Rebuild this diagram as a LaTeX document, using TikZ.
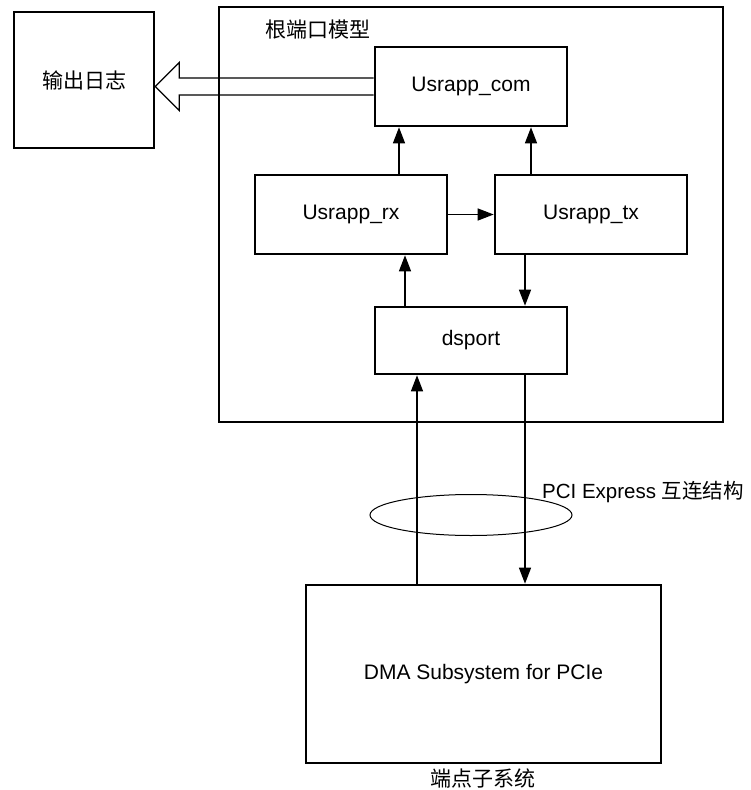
\documentclass[tikz,border=0pt]{standalone}
\usepackage{fontspec}
\setmainfont{Liberation Sans}
\newfontfamily\cjk{Noto Sans CJK SC}
\usepackage{tikz}
\usetikzlibrary{arrows.meta}
\usetikzlibrary{calc}
\usetikzlibrary{shapes.geometric}
\tikzstyle{blk}=[draw,line width=2.6pt,inner sep=0pt,font=\fontsize{21}{25}\selectfont]
\tikzstyle{arr}=[line width=1.3pt,-{Triangle[length=16pt,width=12pt]}]
\tikzstyle{hollow}=[line width=1.3pt,line join=miter]
\tikzstyle{lbl}=[inner sep=0pt,font=\fontsize{21}{25}\selectfont]

\begin{document}
\begin{tikzpicture}[x=1pt,y=-1pt]
	\useasboundingbox (0,0) rectangle (751,790);
	\node[blk,minimum width=504pt,minimum height=415pt] (root) at (471,214.5) {};
	\node[lbl] (rootlbl) at (318,30) {\cjk 根端口模型};
	\node[blk,minimum width=140pt,minimum height=136pt] (log) at (84,80) {\cjk 输出日志};
	\node[blk,minimum width=192pt,minimum height=79pt] (com) at (471,86.5) {Usrapp\_com};
	\node[blk,minimum width=192pt,minimum height=79pt] (rx)  at (351,214.5) {Usrapp\_rx};
	\node[blk,minimum width=192pt,minimum height=79pt] (tx)  at (591,214.5) {Usrapp\_tx};
	\node[blk,minimum width=192pt,minimum height=67pt] (ds)  at (471,340.5) {dsport};
	\node[blk,minimum width=355pt,minimum height=178pt] (dma) at (483.5,674) {DMA Subsystem for PCIe};
	\node[lbl] (dmalbl) at (483,778) {\cjk 端点子系统};
	\node[draw,line width=1pt,ellipse,minimum width=202pt,minimum height=41pt,inner sep=0pt] (link) at (471,515) {};
	\node[lbl,anchor=west,font=\fontsize{20.5}{24}\selectfont] (linklbl) at (542,492) {PCI Express {\cjk 互连结构}};
	% log output
	\coordinate (tip) at (log.east |- com.west);
	\draw[hollow] ([yshift=8.5pt]com.west) -- ([shift={(24pt,8.5pt)}]tip) -- ([shift={(24pt,24pt)}]tip)
		-- (tip) -- ([shift={(24pt,-24pt)}]tip) -- ([shift={(24pt,-8.5pt)}]tip) -- ([yshift=-8.5pt]com.west);
	% inside the root port model
	\draw[arr] ([xshift=48pt]rx.north) -- ([xshift=48pt]rx.north |- com.south);
	\draw[arr] ([xshift=-60pt]tx.north) -- ([xshift=-60pt]tx.north |- com.south);
	\draw[arr] (rx.east) -- (tx.west);
	\draw[arr] ([xshift=-66pt]ds.north) -- ([xshift=-66pt]ds.north |- rx.south);
	\draw[arr] ([xshift=54pt]ds.north |- tx.south) -- ([xshift=54pt]ds.north);
	% link to the endpoint
	\draw[arr] ([xshift=-54pt]ds.south |- dma.north) -- ([xshift=-54pt]ds.south);
	\draw[arr] ([xshift=54pt]ds.south) -- ([xshift=54pt]ds.south |- dma.north);
\end{tikzpicture}
\end{document}
